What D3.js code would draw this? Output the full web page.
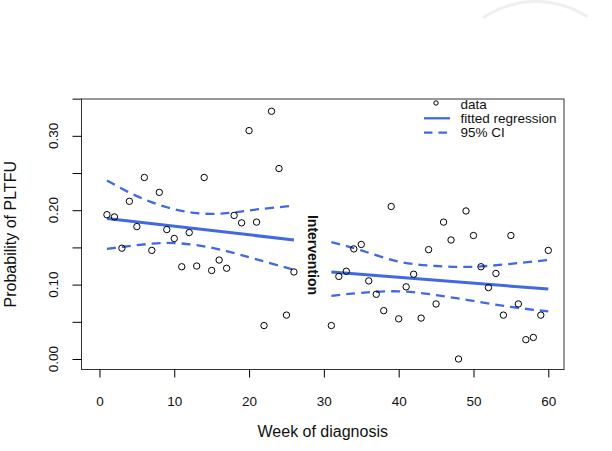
<!DOCTYPE html>
<html>
<head>
<meta charset="utf-8">
<script src="https://cdn.jsdelivr.net/npm/d3@7"></script>
<style>
  body { margin: 0; background: #fff; }
  svg { display: block; font-family: "Liberation Sans", Arial, sans-serif; }
  .tick text { font-size: 13.5px; fill: #111; }
</style>
</head>
<body>
<svg id="vis" width="612" height="451"></svg>
<script>
// weekly PLTFU probability, before and after the intervention
const weeksPre = [1, 2, 3, 4, 5, 6, 7, 8, 9, 10, 11, 12, 13, 14, 15, 16, 17, 18, 19, 20, 21, 22, 23, 24, 25, 26];
const valuesPre = [0.194, 0.191, 0.149, 0.212, 0.178, 0.244, 0.146, 0.224, 0.174, 0.162, 0.124, 0.170, 0.125,
    0.244, 0.119, 0.133, 0.122, 0.193, 0.183, 0.307, 0.184, 0.045, 0.333, 0.256, 0.059, 0.117];
const weeksPost = [31, 32, 33, 34, 35, 36, 37, 38, 39, 40, 41, 42, 43, 44, 45, 46, 47, 48, 49, 50,
    51, 52, 53, 54, 55, 56, 57, 58, 59, 60];
const valuesPost = [0.045, 0.111, 0.118, 0.148, 0.154, 0.105, 0.087, 0.065, 0.205, 0.054, 0.097, 0.114,
    0.055, 0.147, 0.074, 0.184, 0.160, 0.000, 0.199, 0.166, 0.124, 0.096, 0.115, 0.059, 0.166, 0.074,
    0.026, 0.029, 0.059, 0.146];

// fitted line ends and 95% CI
const fitWeeksPre = [1, 26];
const fitPre = [0.189, 0.160];
const fitWeeksPost = [31, 60];
const fitPost = [0.117, 0.094];
const ciWeeksPre = [1, 5, 9, 13, 17, 21, 26];
const upperPre = [0.240, 0.219, 0.204, 0.196, 0.196, 0.201, 0.206];
const lowerPre = [0.148, 0.153, 0.156, 0.153, 0.145, 0.134, 0.120];
const ciWeeksPost = [31, 35, 40, 45, 50, 55, 60];
const upperPost = [0.157, 0.146, 0.131, 0.125, 0.124, 0.128, 0.133];
const lowerPost = [0.085, 0.089, 0.091, 0.086, 0.078, 0.070, 0.064];

const xTicks = [0, 10, 20, 30, 40, 50, 60];
const yTicks = [0, 0.05, 0.10, 0.15, 0.20, 0.25, 0.30, 0.35];
const yLabelled = [0, 0.10, 0.20, 0.30];
const legendLabels = ["data", "fitted regression", "95% CI"];

const blue = "#4169e1";
const box = {left: 81.5, right: 564, top: 99, bottom: 369.5};

const x = d3.scaleLinear().domain([-2.4, 62.1]).range([box.left, box.right]);
const y = d3.scaleLinear().domain([-0.0141, 0.3495]).range([box.bottom, box.top]);

const svg = d3.select("#vis");

// faint watermark arc in the corner of the scan
svg.append("path")
    .attr("transform", "translate(536,95)")
    .attr("d", d3.arc().innerRadius(92).outerRadius(95).startAngle(-0.6).endAngle(0.58)())
    .style("fill", "#efefef");

svg.append("rect")
    .attr("x", box.left).attr("y", box.top)
    .attr("width", box.right - box.left).attr("height", box.bottom - box.top)
    .style("fill", "none").style("stroke", "#333").style("stroke-width", 1);

// x axis
let xAxis = svg.append("g")
    .attr("transform", `translate(0,${box.bottom})`)
    .call(d3.axisBottom(x).tickValues(xTicks).tickSize(8).tickPadding(19).tickSizeOuter(0));
xAxis.select(".domain").remove();

// y axis, labels only every 0.10 and rotated like R does
let yAxis = svg.append("g")
    .attr("transform", `translate(${box.left},0)`)
    .call(d3.axisLeft(y).tickValues(yTicks).tickSize(9).tickFormat(""));
yAxis.select(".domain").remove();

svg.append("g").selectAll("text")
    .data(yLabelled)
    .enter()
    .append("text")
    .attr("transform", d => `translate(57.5,${y(d)}) rotate(-90)`)
    .attr("text-anchor", "middle")
    .style("font-size", "13.5px")
    .style("fill", "#111")
    .text(d3.format(".2f"));

svg.append("text")
    .attr("x", (box.left + box.right) / 2)
    .attr("y", 437)
    .attr("text-anchor", "middle")
    .style("font-size", "16px")
    .style("fill", "#111")
    .text("Week of diagnosis");

svg.append("text")
    .attr("transform", `translate(16,${(box.top + box.bottom) / 2}) rotate(-90)`)
    .attr("text-anchor", "middle")
    .style("font-size", "16px")
    .style("fill", "#111")
    .text("Probability of PLTFU");

// regression lines and confidence bands
const line = d3.line().x(d => x(d[0])).y(d => y(d[1]));
const curve = d3.line().x(d => x(d[0])).y(d => y(d[1])).curve(d3.curveNatural);
const zip = (a, b) => a.map((v, i) => [v, b[i]]);

let lines = svg.append("g").style("fill", "none").style("stroke", blue);

[[ciWeeksPre, upperPre], [ciWeeksPre, lowerPre], [ciWeeksPost, upperPost], [ciWeeksPost, lowerPost]]
    .forEach(pair => {
        lines.append("path")
            .attr("d", curve(zip(pair[0], pair[1])))
            .style("stroke-width", 2.3)
            .style("stroke-dasharray", "9,6");
    });

[[fitWeeksPre, fitPre], [fitWeeksPost, fitPost]].forEach(pair => {
    lines.append("path")
        .attr("d", line(zip(pair[0], pair[1])))
        .style("stroke-width", 3);
});

// data points
let points = zip(weeksPre, valuesPre).concat(zip(weeksPost, valuesPost));
svg.append("g").selectAll("circle")
    .data(points)
    .enter()
    .append("circle")
    .attr("cx", d => x(d[0]))
    .attr("cy", d => y(d[1]))
    .attr("r", 3.2)
    .style("fill", "none")
    .style("stroke", "#000")
    .style("stroke-width", 1);

svg.append("text")
    .attr("transform", "translate(307.5,255) rotate(90)")
    .attr("text-anchor", "middle")
    .style("font-size", "14px")
    .style("font-weight", "bold")
    .style("fill", "#111")
    .text("Intervention");

// legend
let legend = svg.append("g");
let rows = legend.selectAll("g")
    .data(legendLabels)
    .enter()
    .append("g")
    .attr("transform", (d, i) => `translate(0,${104 + i * 14.3})`);

rows.append("text")
    .attr("x", 460.5)
    .attr("dy", "0.35em")
    .style("font-size", "13.5px")
    .style("fill", "#111")
    .text(d => d);

rows.filter((d, i) => i == 0).append("circle")
    .attr("cx", 436).attr("cy", -1).attr("r", 2.2)
    .style("fill", "none").style("stroke", "#000");

rows.filter((d, i) => i > 0).append("line")
    .attr("x1", 424).attr("x2", 450)
    .style("stroke", blue)
    .style("stroke-width", 2.3)
    .style("stroke-dasharray", (d, i) => i == 1 ? "8.5,6" : null);
</script>
</body>
</html>
